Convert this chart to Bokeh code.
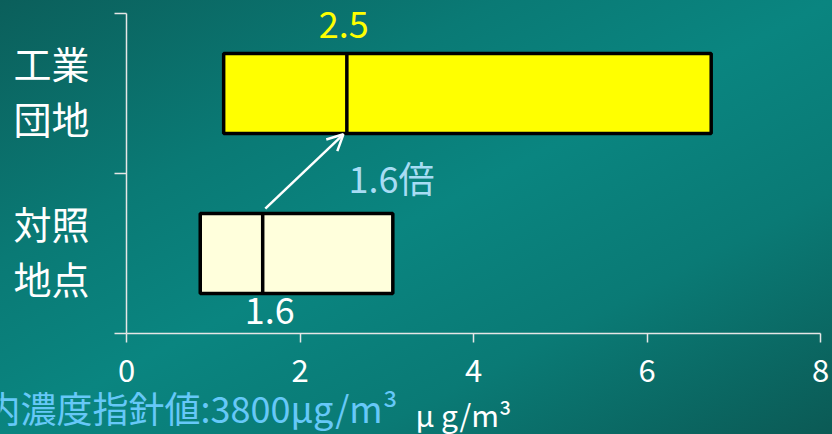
from bokeh.plotting import figure
from bokeh.models import Label, Arrow, OpenHead, FixedTicker
from bokeh.embed import file_html
from bokeh.resources import INLINE

# ---- data ----
cat_lines = [["工業", "団地"], ["対照", "地点"]]
cat_pos = [1.5, 0.5]
box_low = [1.12, 0.85]
box_high = [6.74, 3.07]
medians = [2.54, 1.57]
box_colors = ["#ffff00", "#ffffdc"]
median_label_colors = ["#ffff00", "#ffffff"]
x_ticks = [0, 2, 4, 6, 8]
y_ticks = [0, 1, 2]
unit_label = "μ g/m³"
note_text = "内濃度指針値:3800μg/m³"
ratio = medians[0] / medians[1]

FONT = "Noto Sans CJK JP"
BOX_H = 0.5

# plot area: x 0..8 spans px 126..820, y 0..2 spans px 333..13
PX_X = 86.75
PX_Y = 160.0
W, H = 832, 434
x_range = (-126 / PX_X, 8 + (W - 820) / PX_X)
y_range = (-(H - 333) / PX_Y, 2 + 13 / PX_Y)

p = figure(width=W, height=H, x_range=x_range, y_range=y_range,
           output_backend="svg", toolbar_location=None)
p.min_border = 0
p.min_border_left = 0
p.min_border_right = 0
p.min_border_top = 0
p.min_border_bottom = 0
p.grid.visible = False
p.outline_line_color = None
p.background_fill_alpha = 0
p.border_fill_alpha = 0
p.styles = {"background": "linear-gradient(to bottom right, #0b5f5b 0%, #0a7a75 30%, #0a8580 50%, #0a7a75 72%, #0b5a55 100%)"}

# axes drawn at fixed data locations
for ax in (p.xaxis, p.yaxis):
    ax.axis_line_color = "#e6e6e6"
    ax.axis_line_width = 1.5
    ax.major_tick_line_color = "#e6e6e6"
    ax.major_tick_line_width = 1.5
    ax.major_tick_in = 0
    ax.minor_tick_line_color = "#e6e6e6"
    ax.minor_tick_line_width = 1.5
    ax.fixed_location = 0
p.xaxis.bounds = (x_ticks[0], x_ticks[-1])
p.yaxis.bounds = (y_ticks[0], y_ticks[-1])
p.xaxis.ticker = FixedTicker(ticks=x_ticks)
p.xaxis.minor_tick_line_color = None
p.yaxis.ticker = FixedTicker(ticks=[], minor_ticks=y_ticks)
p.yaxis.minor_tick_out = 12
p.yaxis.minor_tick_in = 0
p.xaxis.major_tick_out = 9
p.xaxis.major_label_text_color = "white"
p.xaxis.major_label_text_font = FONT
p.xaxis.major_label_text_font_size = "31px"
p.xaxis.major_label_standoff = 16

# boxes
bottoms = [c - BOX_H / 2 for c in cat_pos]
tops = [c + BOX_H / 2 for c in cat_pos]
p.quad(left=box_low, right=box_high, bottom=bottoms, top=tops,
       fill_color=box_colors, line_color="black", line_width=3.5)
p.segment(x0=medians, x1=medians, y0=bottoms, y1=tops,
          line_color="black", line_width=3.5)

# category labels (two lines each)
for lines, c in zip(cat_lines, cat_pos):
    for line, off in zip(lines, [31, -24]):
        p.add_layout(Label(x=-1.3026, y=c, y_offset=off, text=line,
                           text_color="white", text_font=FONT,
                           text_font_size="38px", text_baseline="middle",
                           text_align="left"))

# median labels
p.add_layout(Label(x=medians[0], y=tops[0], y_offset=29, x_offset=-3,
                   text=f"{medians[0]:.1f}", text_color=median_label_colors[0],
                   text_font=FONT, text_font_size="36px",
                   text_align="center", text_baseline="alphabetic"))
p.add_layout(Label(x=medians[1], y=bottoms[1], y_offset=-17, x_offset=7,
                   text=f"{medians[1]:.1f}", text_color=median_label_colors[1],
                   text_font=FONT, text_font_size="36px",
                   text_align="center", text_baseline="alphabetic"))

# arrow and ratio
p.add_layout(Arrow(x_start=medians[1] + 0.03, y_start=tops[1] + 0.03,
                   x_end=medians[0] - 0.04, y_end=bottoms[0] - 0.005,
                   line_color="white", line_width=2.5,
                   end=OpenHead(size=16, line_color="white", line_width=2.5)))
p.add_layout(Label(x=medians[0] + 0.02, y=1.0, y_offset=-3,
                   text=f"{ratio:.1f}倍", text_color="#a8dcf4",
                   text_font=FONT, text_font_size="36px",
                   text_align="left", text_baseline="middle"))

# unit label and note
p.add_layout(Label(x=3.331, y=-0.506, text=unit_label, text_color="white",
                   text_font=FONT, text_font_size="30px",
                   text_align="left", text_baseline="alphabetic"))
p.add_layout(Label(x=-1.637, y=-0.46, text=note_text, text_color="#66c8f8",
                   text_font=FONT, text_font_size="36px",
                   text_align="left", text_baseline="alphabetic"))

open("out.html", "w", encoding="utf-8").write(file_html(p, INLINE))
